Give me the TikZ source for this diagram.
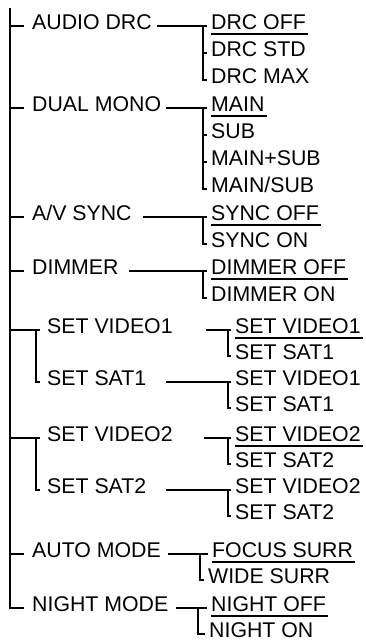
\documentclass[tikz,border=0pt]{standalone}
\usepackage{fontspec}
\setmainfont{Liberation Sans}
\usetikzlibrary{positioning, calc}
\tikzset{
  menu/.style={anchor=west, inner xsep=0pt, inner ysep=0pt,
               text height=0.72em, text depth=0pt,
               font=\fontsize{21.3}{24}\selectfont},
  wire/.style={line width=1.6pt},
  trunk/.style={line width=1.4pt},
  uline/.style={line width=1.9pt}
}

\begin{document}
\begin{tikzpicture}[x=1pt, y=-1pt]
  \useasboundingbox (0,0) rectangle (366,642);
  % junction columns
  \coordinate (top) at (10,8);
  \coordinate (sj) at (36,0);
  \coordinate (j1) at (203,0);
  \coordinate (j2) at (228,0);
  \coordinate (j3) at (200,0);
  \coordinate (j4) at (198,0);

  % first level
  \node[menu] (adrc)  at (32,26)  {AUDIO DRC};
  \node[menu] (dmono) at (32,108) {DUAL MONO};
  \node[menu] (avs)   at (32,217) {A/V SYNC};
  \node[menu] (dim)   at (32,271) {DIMMER};
  \node[menu] (sv1)   at (47,330) {SET VIDEO1};
  \node[menu] (ss1)   at (47,382) {SET SAT1};
  \node[menu] (sv2)   at (47,438) {SET VIDEO2};
  \node[menu] (ss2)   at (47,490) {SET SAT2};
  \node[menu] (auto)  at (32,554) {AUTO MODE};
  \node[menu] (night) at (32,608) {NIGHT MODE};

  % options
  \node[menu] (drcoff) at (211,26) {DRC OFF};
  \node[menu] (drcstd) at (211,53) {DRC STD};
  \node[menu] (drcmax) at (211,80) {DRC MAX};
  \node[menu] (main)   at (211,108) {MAIN};
  \node[menu] (sub)    at (211,135) {SUB};
  \node[menu] (mplus)  at (211,162) {MAIN+SUB};
  \node[menu] (mslash) at (211,189) {MAIN/SUB};
  \node[menu] (syoff)  at (211,217) {SYNC OFF};
  \node[menu] (syon)   at (211,244) {SYNC ON};
  \node[menu] (dmoff)  at (211,271) {DIMMER OFF};
  \node[menu] (dmon)   at (211,298) {DIMMER ON};
  \node[menu] (av1)    at (235,330) {SET VIDEO1};
  \node[menu] (as1)    at (235,356) {SET SAT1};
  \node[menu] (bv1)    at (235,382) {SET VIDEO1};
  \node[menu] (bs1)    at (235,408) {SET SAT1};
  \node[menu] (av2)    at (235,438) {SET VIDEO2};
  \node[menu] (as2)    at (235,464) {SET SAT2};
  \node[menu] (bv2)    at (235,490) {SET VIDEO2};
  \node[menu] (bs2)    at (235,516) {SET SAT2};
  \node[menu] (focus)  at (212,554) {FOCUS SURR};
  \node[menu] (wide)   at (208,580) {WIDE SURR};
  \node[menu] (ntoff)  at (211,608) {NIGHT OFF};
  \node[menu] (nton)   at (209,634) {NIGHT ON};

  % main trunk
  \draw[trunk] (top) |- ([xshift=-8pt]night.west);
  \foreach \n in {adrc,dmono,avs,dim,auto}
    \draw[wire] (\n.west -| top) -- ([xshift=-8pt]\n.west);
  \foreach \a/\b in {sv1/ss1, sv2/ss2} {
    \draw[wire] (\a.west -| top) -- ([xshift=-7pt]\a.west);
    \draw[wire] (\a.west -| sj) |- ([xshift=-7pt]\b.west);
  }

  % first level to options
  \foreach \n/\g/\j in {adrc/5/j1, dmono/5/j1, avs/11/j1, dim/10/j1,
                        sv1/33/j2, ss1/20/j2, sv2/31/j2, ss2/20/j2,
                        auto/7/j3, night/8/j4}
    \draw[wire] ([xshift=\g pt]\n.east) -- (\n.east -| \j);

  % option branches
  \foreach \j/\a/\b in {j1/drcoff/drcmax, j1/main/mslash, j1/syoff/syon,
                        j1/dmoff/dmon, j2/av1/as1, j2/bv1/bs1,
                        j2/av2/as2, j2/bv2/bs2, j3/focus/wide, j4/ntoff/nton}
    \draw[wire] ([xshift=-4pt]\a.west) -| (\b.west -| \j)
                -- ([xshift=-4pt]\b.west);
  \foreach \n in {drcstd, sub, mplus}
    \draw[wire] (\n.west -| j1) -- ([xshift=-4pt]\n.west);

  % default settings underlined
  \foreach \n in {drcoff, main, syoff, dmoff, av1, av2, focus, ntoff}
    \draw[uline] ([yshift=-4.5pt]\n.south west) -- ([yshift=-4.5pt,xshift=2pt]\n.south east);
\end{tikzpicture}
\end{document}
